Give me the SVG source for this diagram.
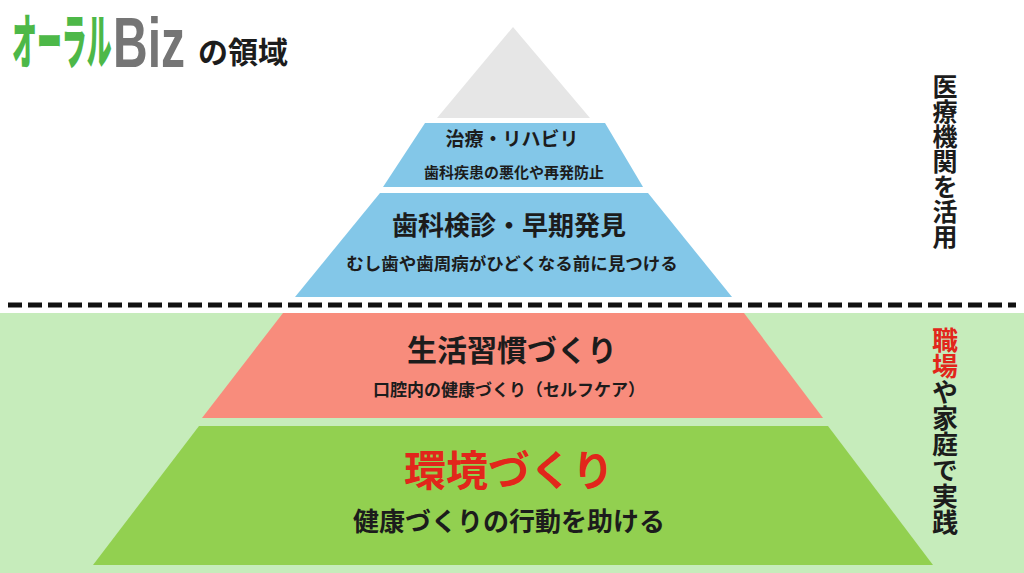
<svg xmlns="http://www.w3.org/2000/svg" width="1024" height="573" viewBox="0 0 1024 573">
<style>
  .jp { font-family: "Noto Sans CJK JP", "Noto Sans", sans-serif; font-weight: 700; fill: #1c1c1c; }
  .c { text-anchor: middle; }
  .red { fill: #e2261b; }
  .vert { writing-mode: vertical-rl; font-size: 25px; }
</style>
<rect x="0" y="0" width="1024" height="573" fill="#ffffff"/>
<rect id="ground" x="0" y="313" width="1024" height="260" fill="#c6ecbb"/>

<g id="logo">
  <g transform="scale(0.415,1)">
    <text x="29" y="64" class="jp" style="font-size:60px;font-weight:900;fill:#4db848">オーラル</text>
  </g>
  <g transform="scale(0.686,1)">
    <text x="164.7" y="67" style="font-family:'Liberation Sans',Arial,sans-serif;font-weight:700;font-size:70px;fill:#757575">Biz</text>
  </g>
  <text x="198" y="63" class="jp" style="font-size:30px">の領域</text>
</g>

<g id="level-top">
  <polygon points="513,27 590,118 437,118" fill="#e6e6e6"/>
</g>

<g id="level-treatment">
  <polygon points="425,123 605,123 643,187 383,187" fill="#83c7e8"/>
  <text x="512" y="146" class="jp c" style="font-size:19px">治療・リハビリ</text>
  <text x="514" y="178" class="jp c" style="font-size:15px">歯科疾患の悪化や再発防止</text>
</g>

<g id="level-checkup">
  <polygon points="380,193 648,193 732,297 295,297" fill="#83c7e8"/>
  <text x="509" y="235" class="jp c" style="font-size:26px">歯科検診・早期発見</text>
  <text x="512" y="270" class="jp c" style="font-size:17.5px">むし歯や歯周病がひどくなる前に見つける</text>
</g>

<g id="connectors">
  <line x1="8" y1="305" x2="1016" y2="305" stroke="#111111" stroke-width="5" stroke-dasharray="14 6"/>
</g>

<g id="level-habit">
  <polygon points="283,313 744,313 823,418 202,418" fill="#f88c7c"/>
  <text x="512" y="361" class="jp c" style="font-size:30px">生活習慣づくり</text>
  <text x="509" y="396" class="jp c" style="font-size:17px">口腔内の健康づくり（セルフケア）</text>
</g>

<g id="level-environment">
  <polygon points="199,426 828,426 933,565 93,565" fill="#92d050"/>
  <text x="509" y="486" class="jp c red" style="font-size:42px">環境づくり</text>
  <text x="509" y="531" class="jp c" style="font-size:26px">健康づくりの行動を助ける</text>
</g>

<g id="label-medical">
  <text x="945" y="74" class="jp vert">医療機関を活用</text>
</g>

<g id="label-practice">
  <text x="945" y="327" class="jp vert" style="font-size:26px"><tspan class="red">職場</tspan>や家庭で実践</text>
</g>
</svg>
